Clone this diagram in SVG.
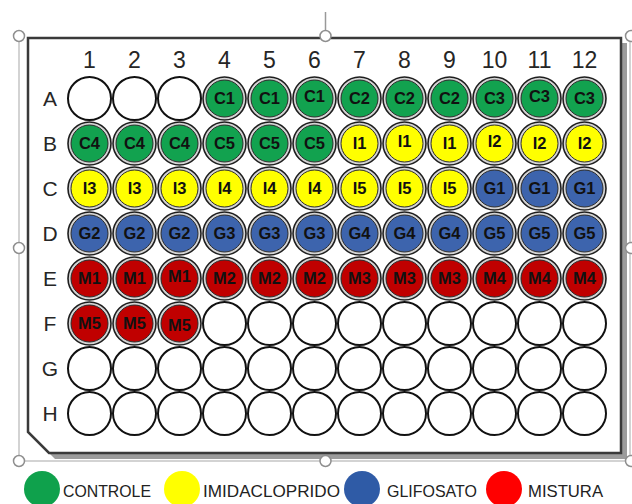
<svg xmlns="http://www.w3.org/2000/svg" xmlns:xlink="http://www.w3.org/1999/xlink" width="632" height="504" viewBox="0 0 632 504">
<style>
.sel{stroke:#c4c4c4;stroke-width:1.5;fill:none}
.handle{fill:#fff;stroke:#8f8f8f;stroke-width:1.5}
.plate{fill:#fff;stroke:#3a3a3a;stroke-width:2.5}
.shadow{fill:#9c9c9c}
.empty{fill:#fff;stroke:#111;stroke-width:2}
.ring{fill:#d4d4d4;stroke:#1e1e1e;stroke-width:1.6}
.gr{fill:#12a24f;stroke:#2a2a2a;stroke-width:1}
.ye{fill:#ffff00;stroke:#2a2a2a;stroke-width:1}
.bl{fill:#3d64ad;stroke:#2a2a2a;stroke-width:1}
.rd{fill:#c00000;stroke:#2a2a2a;stroke-width:1}
.wl{font-family:"Liberation Sans",Arial,sans-serif;font-weight:bold;font-size:16.5px;fill:#111;text-anchor:middle}
.col{font-family:"Liberation Sans",Arial,sans-serif;font-size:23px;fill:#262626;text-anchor:middle}
.row{font-family:"Liberation Sans",Arial,sans-serif;font-size:21px;fill:#262626;text-anchor:middle}
.leg{font-family:"Liberation Sans",Arial,sans-serif;font-size:17px;fill:#222}
</style>
<defs>
<circle id="ew" r="21.5" class="empty"/>
<circle id="rg" r="21.5" class="ring"/>
</defs>
<g id="selection">
<line class="sel" x1="19" y1="36" x2="19" y2="461"/>
<line class="sel" x1="19" y1="461" x2="632" y2="461"/>
<line class="sel" x1="630" y1="36" x2="630" y2="461"/>
<line x1="325.5" y1="12" x2="325.5" y2="31" stroke="#999" stroke-width="1.5"/>
</g>
<g id="plate">
<path class="shadow" d="M34,43 L627,43 L627,459 L55,459 L34,438 Z"/>
<path class="plate" d="M28,38 L621,38 L621,453 L49,453 L28,432 Z"/>
</g>
<g id="handles">
<circle class="handle" cx="19" cy="36" r="5.5"/>
<circle class="handle" cx="325.5" cy="36" r="5.5"/>
<circle class="handle" cx="631" cy="36" r="5.5"/>
<circle class="handle" cx="19" cy="248" r="5.5"/>
<circle class="handle" cx="631" cy="248" r="5.5"/>
<circle class="handle" cx="19" cy="461" r="5.5"/>
<circle class="handle" cx="325.5" cy="461" r="5.5"/>
<circle class="handle" cx="631" cy="461" r="5.5"/>
</g>
<g id="col-labels">
<text class="col" x="89.5" y="68">1</text>
<text class="col" x="134.5" y="68">2</text>
<text class="col" x="179.5" y="68">3</text>
<text class="col" x="224.5" y="68">4</text>
<text class="col" x="269.5" y="68">5</text>
<text class="col" x="314.5" y="68">6</text>
<text class="col" x="359.5" y="68">7</text>
<text class="col" x="404.5" y="68">8</text>
<text class="col" x="449.5" y="68">9</text>
<text class="col" x="494.5" y="68">10</text>
<text class="col" x="539.5" y="68">11</text>
<text class="col" x="584.5" y="68">12</text>
</g>
<g id="row-labels">
<text class="row" x="50" y="106">A</text>
<text class="row" x="50" y="151">B</text>
<text class="row" x="50" y="196">C</text>
<text class="row" x="50" y="241">D</text>
<text class="row" x="50" y="286">E</text>
<text class="row" x="50" y="331">F</text>
<text class="row" x="50" y="376">G</text>
<text class="row" x="50" y="421">H</text>
</g>
<g id="wells">
<!-- Row A -->
<g id="A1" transform="translate(89.5,98.5)"><use xlink:href="#ew"/></g>
<g id="A2" transform="translate(134.5,98.5)"><use xlink:href="#ew"/></g>
<g id="A3" transform="translate(179.5,98.5)"><use xlink:href="#ew"/></g>
<g id="A4" transform="translate(224.5,98.5)"><use xlink:href="#rg"/><circle r="18.5" class="gr"/><text class="wl" y="5.5">C1</text></g>
<g id="A5" transform="translate(269.5,98.5)"><use xlink:href="#rg"/><circle r="18.5" class="gr"/><text class="wl" y="5.5">C1</text></g>
<g id="A6" transform="translate(314.5,98.5)"><use xlink:href="#rg"/><circle r="18.5" class="gr"/><text class="wl" y="3.5">C1</text></g>
<g id="A7" transform="translate(359.5,98.5)"><use xlink:href="#rg"/><circle r="18.5" class="gr"/><text class="wl" y="5.5">C2</text></g>
<g id="A8" transform="translate(404.5,98.5)"><use xlink:href="#rg"/><circle r="18.5" class="gr"/><text class="wl" y="5.5">C2</text></g>
<g id="A9" transform="translate(449.5,98.5)"><use xlink:href="#rg"/><circle r="18.5" class="gr"/><text class="wl" y="5.5">C2</text></g>
<g id="A10" transform="translate(494.5,98.5)"><use xlink:href="#rg"/><circle r="18.5" class="gr"/><text class="wl" y="5.5">C3</text></g>
<g id="A11" transform="translate(539.5,98.5)"><use xlink:href="#rg"/><circle r="18.5" class="gr"/><text class="wl" y="3.5">C3</text></g>
<g id="A12" transform="translate(584.5,98.5)"><use xlink:href="#rg"/><circle r="18.5" class="gr"/><text class="wl" y="5.5">C3</text></g>
<!-- Row B -->
<g id="B1" transform="translate(89.5,143.5)"><use xlink:href="#rg"/><circle r="18.5" class="gr"/><text class="wl" y="5.5">C4</text></g>
<g id="B2" transform="translate(134.5,143.5)"><use xlink:href="#rg"/><circle r="18.5" class="gr"/><text class="wl" y="5.5">C4</text></g>
<g id="B3" transform="translate(179.5,143.5)"><use xlink:href="#rg"/><circle r="18.5" class="gr"/><text class="wl" y="5.5">C4</text></g>
<g id="B4" transform="translate(224.5,143.5)"><use xlink:href="#rg"/><circle r="18.5" class="gr"/><text class="wl" y="5.5">C5</text></g>
<g id="B5" transform="translate(269.5,143.5)"><use xlink:href="#rg"/><circle r="18.5" class="gr"/><text class="wl" y="5.5">C5</text></g>
<g id="B6" transform="translate(314.5,143.5)"><use xlink:href="#rg"/><circle r="18.5" class="gr"/><text class="wl" y="5.5">C5</text></g>
<g id="B7" transform="translate(359.5,143.5)"><use xlink:href="#rg"/><circle r="18.5" class="ye"/><text class="wl" y="5.5">I1</text></g>
<g id="B8" transform="translate(404.5,143.5)"><use xlink:href="#rg"/><circle r="18.5" class="ye"/><text class="wl" y="3.5">I1</text></g>
<g id="B9" transform="translate(449.5,143.5)"><use xlink:href="#rg"/><circle r="18.5" class="ye"/><text class="wl" y="5.5">I1</text></g>
<g id="B10" transform="translate(494.5,143.5)"><use xlink:href="#rg"/><circle r="18.5" class="ye"/><text class="wl" y="3.5">I2</text></g>
<g id="B11" transform="translate(539.5,143.5)"><use xlink:href="#rg"/><circle r="18.5" class="ye"/><text class="wl" y="5.5">I2</text></g>
<g id="B12" transform="translate(584.5,143.5)"><use xlink:href="#rg"/><circle r="18.5" class="ye"/><text class="wl" y="5.5">I2</text></g>
<!-- Row C -->
<g id="C1" transform="translate(89.5,188.5)"><use xlink:href="#rg"/><circle r="18.5" class="ye"/><text class="wl" y="5.5">I3</text></g>
<g id="C2" transform="translate(134.5,188.5)"><use xlink:href="#rg"/><circle r="18.5" class="ye"/><text class="wl" y="5.5">I3</text></g>
<g id="C3" transform="translate(179.5,188.5)"><use xlink:href="#rg"/><circle r="18.5" class="ye"/><text class="wl" y="5.5">I3</text></g>
<g id="C4" transform="translate(224.5,188.5)"><use xlink:href="#rg"/><circle r="18.5" class="ye"/><text class="wl" y="5.5">I4</text></g>
<g id="C5" transform="translate(269.5,188.5)"><use xlink:href="#rg"/><circle r="18.5" class="ye"/><text class="wl" y="5.5">I4</text></g>
<g id="C6" transform="translate(314.5,188.5)"><use xlink:href="#rg"/><circle r="18.5" class="ye"/><text class="wl" y="5.5">I4</text></g>
<g id="C7" transform="translate(359.5,188.5)"><use xlink:href="#rg"/><circle r="18.5" class="ye"/><text class="wl" y="5.5">I5</text></g>
<g id="C8" transform="translate(404.5,188.5)"><use xlink:href="#rg"/><circle r="18.5" class="ye"/><text class="wl" y="5.5">I5</text></g>
<g id="C9" transform="translate(449.5,188.5)"><use xlink:href="#rg"/><circle r="18.5" class="ye"/><text class="wl" y="5.5">I5</text></g>
<g id="C10" transform="translate(494.5,188.5)"><use xlink:href="#rg"/><circle r="18.5" class="bl"/><text class="wl" y="5.5">G1</text></g>
<g id="C11" transform="translate(539.5,188.5)"><use xlink:href="#rg"/><circle r="18.5" class="bl"/><text class="wl" y="5.5">G1</text></g>
<g id="C12" transform="translate(584.5,188.5)"><use xlink:href="#rg"/><circle r="18.5" class="bl"/><text class="wl" y="5.5">G1</text></g>
<!-- Row D -->
<g id="D1" transform="translate(89.5,233.5)"><use xlink:href="#rg"/><circle r="18.5" class="bl"/><text class="wl" y="5.5">G2</text></g>
<g id="D2" transform="translate(134.5,233.5)"><use xlink:href="#rg"/><circle r="18.5" class="bl"/><text class="wl" y="5.5">G2</text></g>
<g id="D3" transform="translate(179.5,233.5)"><use xlink:href="#rg"/><circle r="18.5" class="bl"/><text class="wl" y="5.5">G2</text></g>
<g id="D4" transform="translate(224.5,233.5)"><use xlink:href="#rg"/><circle r="18.5" class="bl"/><text class="wl" y="5.5">G3</text></g>
<g id="D5" transform="translate(269.5,233.5)"><use xlink:href="#rg"/><circle r="18.5" class="bl"/><text class="wl" y="5.5">G3</text></g>
<g id="D6" transform="translate(314.5,233.5)"><use xlink:href="#rg"/><circle r="18.5" class="bl"/><text class="wl" y="5.5">G3</text></g>
<g id="D7" transform="translate(359.5,233.5)"><use xlink:href="#rg"/><circle r="18.5" class="bl"/><text class="wl" y="5.5">G4</text></g>
<g id="D8" transform="translate(404.5,233.5)"><use xlink:href="#rg"/><circle r="18.5" class="bl"/><text class="wl" y="5.5">G4</text></g>
<g id="D9" transform="translate(449.5,233.5)"><use xlink:href="#rg"/><circle r="18.5" class="bl"/><text class="wl" y="5.5">G4</text></g>
<g id="D10" transform="translate(494.5,233.5)"><use xlink:href="#rg"/><circle r="18.5" class="bl"/><text class="wl" y="5.5">G5</text></g>
<g id="D11" transform="translate(539.5,233.5)"><use xlink:href="#rg"/><circle r="18.5" class="bl"/><text class="wl" y="5.5">G5</text></g>
<g id="D12" transform="translate(584.5,233.5)"><use xlink:href="#rg"/><circle r="18.5" class="bl"/><text class="wl" y="5.5">G5</text></g>
<!-- Row E -->
<g id="E1" transform="translate(89.5,278.5)"><use xlink:href="#rg"/><circle r="18.5" class="rd"/><text class="wl" y="5.5">M1</text></g>
<g id="E2" transform="translate(134.5,278.5)"><use xlink:href="#rg"/><circle r="18.5" class="rd"/><text class="wl" y="5.5">M1</text></g>
<g id="E3" transform="translate(179.5,278.5)"><use xlink:href="#rg"/><circle r="18.5" class="rd"/><text class="wl" y="3.5">M1</text></g>
<g id="E4" transform="translate(224.5,278.5)"><use xlink:href="#rg"/><circle r="18.5" class="rd"/><text class="wl" y="5.5">M2</text></g>
<g id="E5" transform="translate(269.5,278.5)"><use xlink:href="#rg"/><circle r="18.5" class="rd"/><text class="wl" y="5.5">M2</text></g>
<g id="E6" transform="translate(314.5,278.5)"><use xlink:href="#rg"/><circle r="18.5" class="rd"/><text class="wl" y="5.5">M2</text></g>
<g id="E7" transform="translate(359.5,278.5)"><use xlink:href="#rg"/><circle r="18.5" class="rd"/><text class="wl" y="5.5">M3</text></g>
<g id="E8" transform="translate(404.5,278.5)"><use xlink:href="#rg"/><circle r="18.5" class="rd"/><text class="wl" y="5.5">M3</text></g>
<g id="E9" transform="translate(449.5,278.5)"><use xlink:href="#rg"/><circle r="18.5" class="rd"/><text class="wl" y="5.5">M3</text></g>
<g id="E10" transform="translate(494.5,278.5)"><use xlink:href="#rg"/><circle r="18.5" class="rd"/><text class="wl" y="5.5">M4</text></g>
<g id="E11" transform="translate(539.5,278.5)"><use xlink:href="#rg"/><circle r="18.5" class="rd"/><text class="wl" y="5.5">M4</text></g>
<g id="E12" transform="translate(584.5,278.5)"><use xlink:href="#rg"/><circle r="18.5" class="rd"/><text class="wl" y="5.5">M4</text></g>
<!-- Row F -->
<g id="F1" transform="translate(89.5,323.5)"><use xlink:href="#rg"/><circle r="18.5" class="rd"/><text class="wl" y="5.5">M5</text></g>
<g id="F2" transform="translate(134.5,323.5)"><use xlink:href="#rg"/><circle r="18.5" class="rd"/><text class="wl" y="5.5">M5</text></g>
<g id="F3" transform="translate(179.5,323.5)"><use xlink:href="#rg"/><circle r="18.5" class="rd"/><text class="wl" y="7.5">M5</text></g>
<g id="F4" transform="translate(224.5,323.5)"><use xlink:href="#ew"/></g>
<g id="F5" transform="translate(269.5,323.5)"><use xlink:href="#ew"/></g>
<g id="F6" transform="translate(314.5,323.5)"><use xlink:href="#ew"/></g>
<g id="F7" transform="translate(359.5,323.5)"><use xlink:href="#ew"/></g>
<g id="F8" transform="translate(404.5,323.5)"><use xlink:href="#ew"/></g>
<g id="F9" transform="translate(449.5,323.5)"><use xlink:href="#ew"/></g>
<g id="F10" transform="translate(494.5,323.5)"><use xlink:href="#ew"/></g>
<g id="F11" transform="translate(539.5,323.5)"><use xlink:href="#ew"/></g>
<g id="F12" transform="translate(584.5,323.5)"><use xlink:href="#ew"/></g>
<!-- Row G -->
<g id="G1" transform="translate(89.5,368.5)"><use xlink:href="#ew"/></g>
<g id="G2" transform="translate(134.5,368.5)"><use xlink:href="#ew"/></g>
<g id="G3" transform="translate(179.5,368.5)"><use xlink:href="#ew"/></g>
<g id="G4" transform="translate(224.5,368.5)"><use xlink:href="#ew"/></g>
<g id="G5" transform="translate(269.5,368.5)"><use xlink:href="#ew"/></g>
<g id="G6" transform="translate(314.5,368.5)"><use xlink:href="#ew"/></g>
<g id="G7" transform="translate(359.5,368.5)"><use xlink:href="#ew"/></g>
<g id="G8" transform="translate(404.5,368.5)"><use xlink:href="#ew"/></g>
<g id="G9" transform="translate(449.5,368.5)"><use xlink:href="#ew"/></g>
<g id="G10" transform="translate(494.5,368.5)"><use xlink:href="#ew"/></g>
<g id="G11" transform="translate(539.5,368.5)"><use xlink:href="#ew"/></g>
<g id="G12" transform="translate(584.5,368.5)"><use xlink:href="#ew"/></g>
<!-- Row H -->
<g id="H1" transform="translate(89.5,413.5)"><use xlink:href="#ew"/></g>
<g id="H2" transform="translate(134.5,413.5)"><use xlink:href="#ew"/></g>
<g id="H3" transform="translate(179.5,413.5)"><use xlink:href="#ew"/></g>
<g id="H4" transform="translate(224.5,413.5)"><use xlink:href="#ew"/></g>
<g id="H5" transform="translate(269.5,413.5)"><use xlink:href="#ew"/></g>
<g id="H6" transform="translate(314.5,413.5)"><use xlink:href="#ew"/></g>
<g id="H7" transform="translate(359.5,413.5)"><use xlink:href="#ew"/></g>
<g id="H8" transform="translate(404.5,413.5)"><use xlink:href="#ew"/></g>
<g id="H9" transform="translate(449.5,413.5)"><use xlink:href="#ew"/></g>
<g id="H10" transform="translate(494.5,413.5)"><use xlink:href="#ew"/></g>
<g id="H11" transform="translate(539.5,413.5)"><use xlink:href="#ew"/></g>
<g id="H12" transform="translate(584.5,413.5)"><use xlink:href="#ew"/></g>
</g>
<g id="legend">
<g id="leg-controle"><circle cx="42" cy="489" r="18" fill="#0fa14c"/><text class="leg" x="63" y="497" textLength="88" lengthAdjust="spacingAndGlyphs">CONTROLE</text></g>
<g id="leg-imidacloprido"><circle cx="182" cy="489" r="18" fill="#ffff00"/><text class="leg" x="203" y="497" textLength="137" lengthAdjust="spacingAndGlyphs">IMIDACLOPRIDO</text></g>
<g id="leg-glifosato"><circle cx="362" cy="489" r="18" fill="#2f5ba6"/><text class="leg" x="387" y="497" textLength="90" lengthAdjust="spacingAndGlyphs">GLIFOSATO</text></g>
<g id="leg-mistura"><circle cx="504" cy="489" r="18" fill="#ff0000"/><text class="leg" x="528" y="497" textLength="75" lengthAdjust="spacingAndGlyphs">MISTURA</text></g>
</g>
</svg>
